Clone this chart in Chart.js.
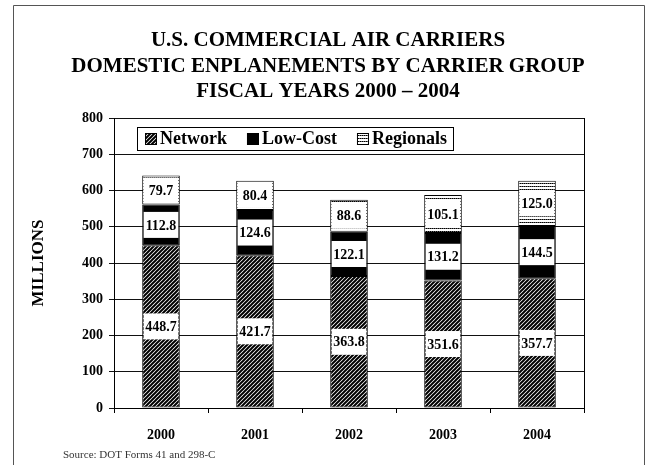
<!DOCTYPE html>
<html lang="en">
<head>
  <meta charset="UTF-8" />
  <title>Domestic Enplanements by Carrier Group</title>
  <script src="https://cdn.jsdelivr.net/npm/chart.js"></script>
  <style>
    html, body { margin: 0; padding: 0; background: #fff; }
    canvas { display: block; }
  </style>
</head>
<body>
  <canvas id="chart" width="649" height="465"></canvas>

  <script>
    const years     = ['2000', '2001', '2002', '2003', '2004'];
    const network   = [448.7, 421.7, 363.8, 351.6, 357.7];
    const lowCost   = [112.8, 124.6, 122.1, 131.2, 144.5];
    const regionals = [79.7, 80.4, 88.6, 105.1, 125.0];
    const yTicks    = [0, 100, 200, 300, 400, 500, 600, 700, 800];

    const titleLines = [
      'U.S. COMMERCIAL AIR CARRIERS',
      'DOMESTIC ENPLANEMENTS BY CARRIER GROUP',
      'FISCAL YEARS 2000 \u2013 2004'
    ];
    const sourceNote = 'Source: DOT Forms 41 and 298-C';

    const SERIF = '"Liberation Serif", "Times New Roman", serif';

    // diagonal hatch for the network carriers
    function hatchPattern() {
      const c = document.createElement('canvas');
      c.width = 4; c.height = 4;
      const g = c.getContext('2d');
      g.fillStyle = '#fff';
      g.fillRect(0, 0, 4, 4);
      g.strokeStyle = '#000';
      g.lineWidth = 2;
      g.beginPath();
      g.moveTo(-1, 5); g.lineTo(5, -1);
      g.moveTo(-1, 1); g.lineTo(1, -1);
      g.moveTo(3, 5);  g.lineTo(5, 3);
      g.stroke();
      return g.createPattern(c, 'repeat');
    }

    // dotted horizontal rules for the regionals
    function dotPattern() {
      const c = document.createElement('canvas');
      c.width = 2; c.height = 3;
      const g = c.getContext('2d');
      g.fillStyle = '#fff';
      g.fillRect(0, 0, 2, 3);
      g.fillStyle = '#000';
      g.fillRect(0, 0, 1, 1);
      g.fillStyle = '#666';
      g.fillRect(1, 0, 1, 1);
      return g.createPattern(c, 'repeat');
    }

    const fills = [hatchPattern(), '#000', dotPattern()];

    const pagePlugin = {
      id: 'page',
      beforeDraw(chart) {
        const ctx = chart.ctx;
        ctx.save();
        ctx.fillStyle = '#fff';
        ctx.fillRect(0, 0, chart.width, chart.height);
        ctx.restore();
      },
      afterDatasetsDraw(chart) {
        // white value boxes over each segment
        const ctx = chart.ctx;
        ctx.save();
        ctx.font = 'bold 14px ' + SERIF;
        ctx.textAlign = 'center';
        ctx.textBaseline = 'middle';
        chart.data.datasets.forEach((ds, i) => {
          chart.getDatasetMeta(i).data.forEach((el, j) => {
            const top = Math.min(el.y, el.base);
            const seg = Math.abs(el.base - el.y);
            const h = Math.min(26, seg - 4);
            const w = el.width - 3;
            const cy = top + seg / 2;
            ctx.fillStyle = '#fff';
            ctx.fillRect(el.x - w / 2, cy - h / 2, w, h);
            ctx.fillStyle = '#000';
            ctx.fillText(ds.data[j].toFixed(1), el.x, cy + 1);
          });
        });
        ctx.restore();
      },
      afterDraw(chart) {
        const ctx = chart.ctx;
        const a = chart.chartArea;
        ctx.save();

        // plot box right edge
        ctx.strokeStyle = '#000';
        ctx.lineWidth = 1;
        ctx.beginPath();
        ctx.moveTo(a.right + 0.5, a.top);
        ctx.lineTo(a.right + 0.5, a.bottom);
        ctx.stroke();

        // outer frame, open at the bottom
        ctx.strokeStyle = '#555';
        ctx.beginPath();
        ctx.moveTo(13.5, chart.height);
        ctx.lineTo(13.5, 5.5);
        ctx.lineTo(644.5, 5.5);
        ctx.lineTo(644.5, chart.height);
        ctx.stroke();

        // heading
        ctx.fillStyle = '#000';
        ctx.textAlign = 'center';
        ctx.textBaseline = 'middle';
        ctx.font = 'bold 21px ' + SERIF;
        titleLines.forEach((t, i) => ctx.fillText(t, 328, 41 + i * 25.5));

        // legend
        const lx = 137, ly = 127, lw = 316, lh = 23;
        ctx.fillStyle = '#fff';
        ctx.fillRect(lx, ly, lw, lh);
        ctx.strokeStyle = '#000';
        ctx.strokeRect(lx + 0.5, ly + 0.5, lw, lh);
        ctx.font = 'bold 18px ' + SERIF;
        ctx.textAlign = 'left';
        let x = lx + 8;
        chart.data.datasets.forEach((ds, i) => {
          ctx.fillStyle = fills[i];
          ctx.fillRect(x, ly + 6, 12, 12);
          ctx.strokeStyle = '#000';
          ctx.strokeRect(x + 0.5, ly + 6.5, 11, 11);
          ctx.fillStyle = '#000';
          ctx.fillText(ds.label, x + 15, ly + lh / 2 + 1);
          x += 15 + ctx.measureText(ds.label).width + 20;
        });

        // source line
        ctx.font = '11px ' + SERIF;
        ctx.fillStyle = '#333';
        ctx.fillText(sourceNote, 63, 455);
        ctx.restore();
      }
    };

    new Chart(document.getElementById('chart').getContext('2d'), {
      type: 'bar',
      data: {
        labels: years,
        datasets: [
          { label: 'Network',   data: network },
          { label: 'Low-Cost',  data: lowCost },
          { label: 'Regionals', data: regionals }
        ].map((d, i) => Object.assign(d, {
          backgroundColor: fills[i],
          borderColor: '#000',
          borderWidth: 1,
          borderSkipped: false,
          barPercentage: 0.4,
          categoryPercentage: 1.0
        }))
      },
      options: {
        responsive: false,
        animation: false,
        devicePixelRatio: 1,
        layout: { padding: { left: 28, top: 118, right: 65, bottom: 17 } },
        plugins: {
          legend: { display: false },
          title: { display: false },
          tooltip: { enabled: false }
        },
        scales: {
          x: {
            stacked: true,
            grid: { offset: true, drawOnChartArea: false, tickLength: 5, color: '#000' },
            border: { color: '#000', width: 1 },
            ticks: { padding: 14, color: '#000', font: { family: SERIF, size: 14, weight: 'bold' } },
            afterFit: s => { s.height = 40; }
          },
          y: {
            stacked: true,
            min: yTicks[0],
            max: yTicks[yTicks.length - 1],
            afterBuildTicks: s => { s.ticks = yTicks.map(v => ({ value: v })); },
            ticks: { padding: 6, color: '#000', font: { family: SERIF, size: 14, weight: 'bold' } },
            grid: { color: '#111', lineWidth: 1, tickLength: 5 },
            border: { color: '#000', width: 1 },
            title: {
              display: true,
              text: 'MILLIONS',
              color: '#000',
              padding: 0,
              font: { family: SERIF, size: 17, weight: 'bold' }
            },
            afterFit: s => { s.width = 86; }
          }
        }
      },
      plugins: [pagePlugin]
    });
  </script>
</body>
</html>
